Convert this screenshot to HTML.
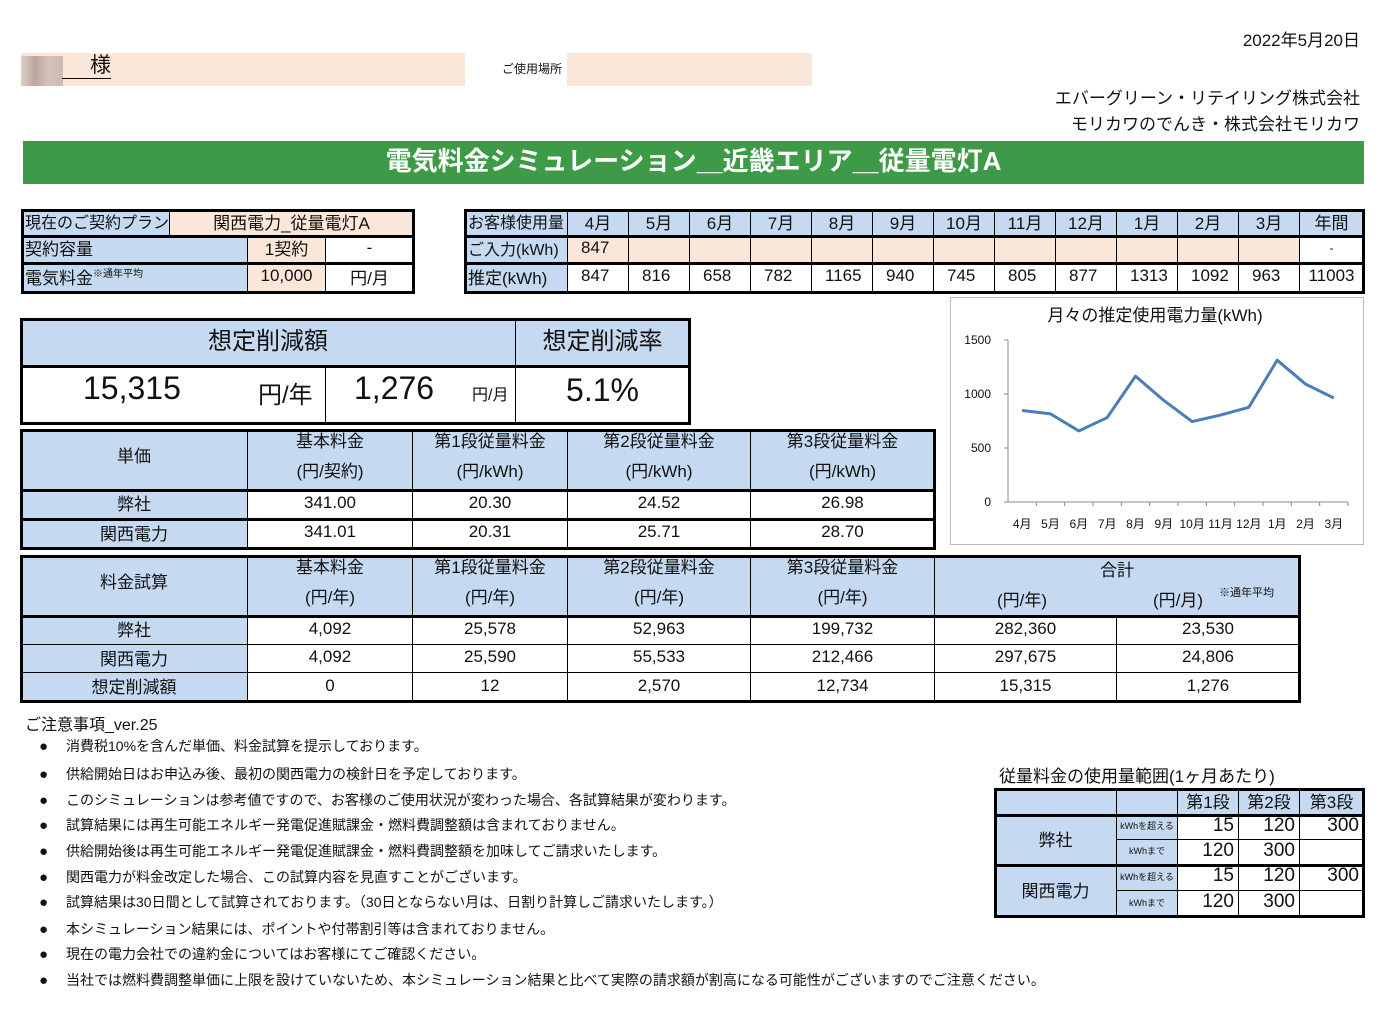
<!DOCTYPE html>
<html><head><meta charset="utf-8">
<style>
body{margin:0;width:1385px;height:1010px;background:#fff;position:relative;overflow:hidden;font-family:"Liberation Sans","Noto Sans CJK JP",sans-serif;color:#111}
.a{position:absolute;box-sizing:border-box}
.c{position:absolute;box-sizing:border-box;display:flex;align-items:center;justify-content:center;white-space:nowrap;font-size:17px;border-right:1px solid #000;border-bottom:1px solid #000;padding-bottom:3px}
.fr{position:absolute;box-sizing:border-box;border:3px solid #000;pointer-events:none}
.hl{position:absolute;height:3px;background:#000}
.t{position:absolute;white-space:nowrap}
</style></head><body>
<div class="t" style="right:25px;top:26px;font-size:17px">2022年5月20日</div>
<div class="a" style="left:21px;top:53px;width:444px;height:33px;background:#fbe7da"></div>
<div class="a" style="left:21px;top:56px;width:42px;height:30px;background:linear-gradient(90deg,#d9c8c0,#a89890,#cbbab0,#bfb0a8);opacity:.8"></div>
<div class="t" style="left:62px;top:54px;font-size:21px;border-bottom:1px solid #000;padding-left:28px;line-height:24px">様</div>
<div class="t" style="left:502px;top:60px;font-size:12px">ご使用場所</div>
<div class="a" style="left:567px;top:53px;width:245px;height:33px;background:#fbe7da"></div>
<div class="t" style="right:25px;top:84px;font-size:17px">エバーグリーン・リテイリング株式会社</div>
<div class="t" style="right:25px;top:110px;font-size:17px">モリカワのでんき・株式会社モリカワ</div>
<div class="a" style="left:23px;top:141px;width:1341px;height:43px;background:#3d9a46;color:#fff;font-weight:bold;font-size:26px;display:flex;align-items:center;justify-content:center;padding-bottom:6px">電気料金シミュレーション＿近畿エリア＿従量電灯A</div>

<div id="cells"></div>

<svg class="a" style="left:950px;top:297px" width="415" height="249" id="chart"></svg>

<div class="t" style="left:25px;top:711px;font-size:16px">ご注意事項_ver.25</div>
<div id="notes"></div>
<div class="t" style="left:999px;top:762px;font-size:17px">従量料金の使用量範囲(1ヶ月あたり)</div>

<script>
const months=['4月','5月','6月','7月','8月','9月','10月','11月','12月','1月','2月','3月'];
const usage=[847,816,658,782,1165,940,745,805,877,1313,1092,963];
const yTicks=[0,500,1000,1500];
const B='#c5d9f1',P='#fbe7da',W='#fff';
const root=document.getElementById('cells');
function cell(x,y,w,h,txt,bg,name,fs,extra){
  const el=document.createElement('div');
  el.className='c';
  el.style.left=x+'px';el.style.top=y+'px';el.style.width=w+'px';el.style.height=h+'px';
  el.style.background=bg;
  if(fs)el.style.fontSize=fs+'px';
  if(extra)el.style.cssText+=extra;
  el.innerHTML=txt;
  
  
  root.appendChild(el);return el;
}
function frame(x,y,w,h,name){
  const el=document.createElement('div');el.className='fr';
  el.style.left=x+'px';el.style.top=y+'px';el.style.width=w+'px';el.style.height=h+'px';
  
  
  root.appendChild(el);
}
function hline(x,y,w,name){
  const el=document.createElement('div');el.className='hl';
  el.style.left=x+'px';el.style.top=(y-1)+'px';el.style.width=w+'px';
  
  
  root.appendChild(el);
}
// contract table
cell(21,210,149,26,'現在のご契約プラン',B,'plan-label',16,'justify-content:flex-start;padding-left:4px');
cell(170,210,244,26,'関西電力_従量電灯A',P,'plan-value');
cell(21,236,227,27,'契約容量',B,'capacity-label',17,'justify-content:flex-start;padding-left:4px');
cell(248,236,78,27,'1契約',P,'capacity-value');
cell(326,236,88,27,'-',W,'capacity-unit');
cell(21,263,227,30,'電気料金<sup style="font-size:10px;align-self:flex-start;margin-top:2px">※通年平均</sup>',B,'bill-label',17,'justify-content:flex-start;padding-left:4px');
cell(248,263,78,30,'10,000',P,'bill-value');
cell(326,263,88,30,'円/月',W,'bill-unit');
frame(21,209,394,85,'contract-table');
hline(21,236,394,'contract-sep');hline(21,263,394,'contract-sep2');
// usage table
const mx=[568,629,690,751,812,873,934,995,1056,1117,1178,1239,1300];
cell(465,210,103,26,'お客様使用量',B,'usage-header-label',16,'justify-content:flex-start;padding-left:3px');
cell(465,236,103,27,'ご入力(kWh)',B,'input-label',16,'justify-content:flex-start;padding-left:3px');
cell(465,263,103,30,'推定(kWh)',B,'estimate-label',17,'justify-content:flex-start;padding-left:3px');
for(let i=0;i<12;i++){
  cell(mx[i],210,61,26,months[i],B,'month-header');
  cell(mx[i],236,61,27,i===0?String(usage[0]):'',P,'input-cell',17,'justify-content:flex-start;padding-left:13px');
  cell(mx[i],263,61,30,String(usage[i]),W,'estimate-cell',17,'justify-content:flex-start;padding-left:13px');
}
cell(1300,210,64,26,'年間',B,'annual-header');
cell(1300,236,64,27,'-',W,'annual-input',12);
cell(1300,263,64,30,String(usage.reduce((a,b)=>a+b,0)),W,'annual-estimate');
frame(464,209,901,85,'usage-table');
hline(465,236,900,'usage-sep');hline(465,263,900,'usage-sep2');
// savings summary
cell(21,319,495,47,'想定削減額',B,'savings-amount-header',24,'padding-bottom:8px');
cell(516,319,174,47,'想定削減率',B,'savings-rate-header',24,'padding-bottom:8px');
cell(21,366,305,58,'<span style="font-size:32px;position:absolute;left:62px;top:4px">15,315</span><span style="font-size:24px;position:absolute;left:237px;top:9px">円/年</span>',W,'annual-savings');
cell(326,366,190,58,'<span style="font-size:32px;position:absolute;left:28px;top:4px">1,276</span><span style="font-size:16px;position:absolute;left:146px;top:15px">円/月</span>',W,'monthly-savings');
cell(516,366,174,58,'5.1%',W,'savings-rate',32,'padding-bottom:8px');
frame(20,318,671,107,'savings-box');
hline(21,366,670,'savings-sep');
// unit price table
const uc=[21,248,413,568,751,935];
const uh=['単価','基本料金<br>(円/契約)','第1段従量料金<br>(円/kWh)','第2段従量料金<br>(円/kWh)','第3段従量料金<br>(円/kWh)'];
const u1=['弊社','341.00','20.30','24.52','26.98'];
const u2=['関西電力','341.01','20.31','25.71','28.70'];
for(let i=0;i<5;i++){
  const w=uc[i+1]-uc[i];
  cell(uc[i],430,w,60,'<div style="text-align:center;line-height:30px">'+uh[i]+'</div>',B,'unit-price-header',17,'padding-bottom:5px');
  cell(uc[i],490,w,29,u1[i],i?W:B,'unit-price-ours');
  cell(uc[i],519,w,30,u2[i],i?W:B,'unit-price-kansai');
}
frame(20,429,916,121,'unit-price-table');
hline(21,490,914,'up-sep');hline(21,519,914,'up-sep2');
// calc table
const cc=[21,248,413,568,751,935,1117,1300];
const ch=['料金試算','基本料金<br>(円/年)','第1段従量料金<br>(円/年)','第2段従量料金<br>(円/年)','第3段従量料金<br>(円/年)'];
const r1=['弊社','4,092','25,578','52,963','199,732','282,360','23,530'];
const r2=['関西電力','4,092','25,590','55,533','212,466','297,675','24,806'];
const r3=['想定削減額','0','12','2,570','12,734','15,315','1,276'];
for(let i=0;i<5;i++){
  cell(cc[i],556,cc[i+1]-cc[i],60,'<div style="text-align:center;line-height:30px">'+ch[i]+'</div>',B,'calc-header',17,'padding-bottom:5px');
}
cell(935,556,365,60,'<span style="position:absolute;top:0px">合計</span><span style="position:absolute;left:62px;top:30px">(円/年)</span><span style="position:absolute;left:218px;top:30px">(円/月)</span><span style="position:absolute;left:284px;top:28px;font-size:11px">※通年平均</span>',B,'calc-total-header');
for(let i=0;i<7;i++){
  const w=cc[i+1]-cc[i];
  cell(cc[i],616,w,29,r1[i],i?W:B,'calc-ours');
  cell(cc[i],645,w,28,r2[i],i?W:B,'calc-kansai');
  cell(cc[i],673,w,29,r3[i],i?W:B,'calc-savings');
}
frame(20,555,1281,148,'calc-table');
hline(21,616,1279,'calc-sep');
// range table
const rc=[995,1117,1178,1239,1300,1364];
cell(995,789,122,26,'',B,'range-blank');
cell(1117,789,61,26,'',B,'range-blank2');
cell(1178,789,61,26,'第1段',B,'tier1-header');
cell(1239,789,61,26,'第2段',B,'tier2-header');
cell(1300,789,64,26,'第3段',B,'tier3-header');
cell(995,815,122,50,'弊社',B,'range-ours-label');
cell(995,865,122,52,'関西電力',B,'range-kansai-label');
const rv=[['kWhを超える','15','120','300'],['kWhまで','120','300',''],['kWhを超える','15','120','300'],['kWhまで','120','300','']];
const ry=[815,840,865,891,917];
for(let r=0;r<4;r++){
  cell(1117,ry[r],61,ry[r+1]-ry[r],rv[r][0],B,'range-condition',9);
  for(let k=1;k<4;k++)cell(rc[k+1],ry[r],rc[k+2]-rc[k+1],ry[r+1]-ry[r],rv[r][k],W,'range-value',19,'justify-content:flex-end;padding-right:4px');
}
frame(994,788,371,130,'range-table');
hline(995,815,369,'range-sep');hline(995,865,369,'range-sep2');

// notes
const notes=['消費税10%を含んだ単価、料金試算を提示しております。','供給開始日はお申込み後、最初の関西電力の検針日を予定しております。','このシミュレーションは参考値ですので、お客様のご使用状況が変わった場合、各試算結果が変わります。','試算結果には再生可能エネルギー発電促進賦課金・燃料費調整額は含まれておりません。','供給開始後は再生可能エネルギー発電促進賦課金・燃料費調整額を加味してご請求いたします。','関西電力が料金改定した場合、この試算内容を見直すことがございます。','試算結果は30日間として試算されております。（30日とならない月は、日割り計算しご請求いたします。）','本シミュレーション結果には、ポイントや付帯割引等は含まれておりません。','現在の電力会社での違約金についてはお客様にてご確認ください。','当社では燃料費調整単価に上限を設けていないため、本シミュレーション結果と比べて実際の請求額が割高になる可能性がございますのでご注意ください。'];
const noteY=[747,775,801,826,852,878,903,930,955,981];
const nr=document.getElementById('notes');
for(let i=0;i<notes.length;i++){
  const d=document.createElement('div');d.className='t';
  d.style.left='39px';d.style.top=(noteY[i]-11)+'px';d.style.fontSize='14px';
  d.innerHTML='<span style="display:inline-block;width:27px;font-size:15px">●</span>'+notes[i];
  
  
  nr.appendChild(d);
}

// chart
const svg=document.getElementById('chart');
const NS='http://www.w3.org/2000/svg';
const X0=58,X1=398,Y0=205,Y1=43,YMAX=1500;
const xs=i=>X0+(X1-X0)/months.length*(i+0.5);
const ys=v=>Y0-(Y0-Y1)*v/YMAX;
function mk(tag,attrs,name,txt){
  const e=document.createElementNS(NS,tag);
  for(const k in attrs)e.setAttribute(k,attrs[k]);
  if(txt!==undefined)e.textContent=txt;
  
  
  svg.appendChild(e);return e;
}
mk('rect',{x:0.5,y:0.5,width:413,height:247,fill:'#fff',stroke:'#bbb'},'chart-frame');
mk('text',{x:205,y:24,'text-anchor':'middle','font-size':17,fill:'#111'},'chart-title','月々の推定使用電力量(kWh)');
mk('line',{x1:X0,y1:Y1,x2:X0,y2:Y0,stroke:'#888'},'y-axis');
mk('line',{x1:X0,y1:Y0,x2:X1,y2:Y0,stroke:'#888'},'x-axis');
yTicks.forEach(t=>{
  mk('line',{x1:X0-4,y1:ys(t),x2:X0,y2:ys(t),stroke:'#888'},'y-tick');
  mk('text',{x:X0-17,y:ys(t)+4,'text-anchor':'end','font-size':12,fill:'#111'},'y-tick-label',String(t));
});
months.forEach((m,i)=>{
  const xb=X0+(X1-X0)/months.length*(i+1);
  mk('line',{x1:xb,y1:Y0,x2:xb,y2:Y0+4,stroke:'#888'},'x-tick');
  mk('text',{x:xs(i),y:Y0+26,'text-anchor':'middle','font-size':12,fill:'#111'},'x-tick-label',m);
});
mk('polyline',{points:usage.map((v,i)=>xs(i)+','+ys(v)).join(' '),fill:'none',stroke:'#4a7ebb',"stroke-width":3,"stroke-linejoin":'round'},'usage-line');
</script>
</body></html>
